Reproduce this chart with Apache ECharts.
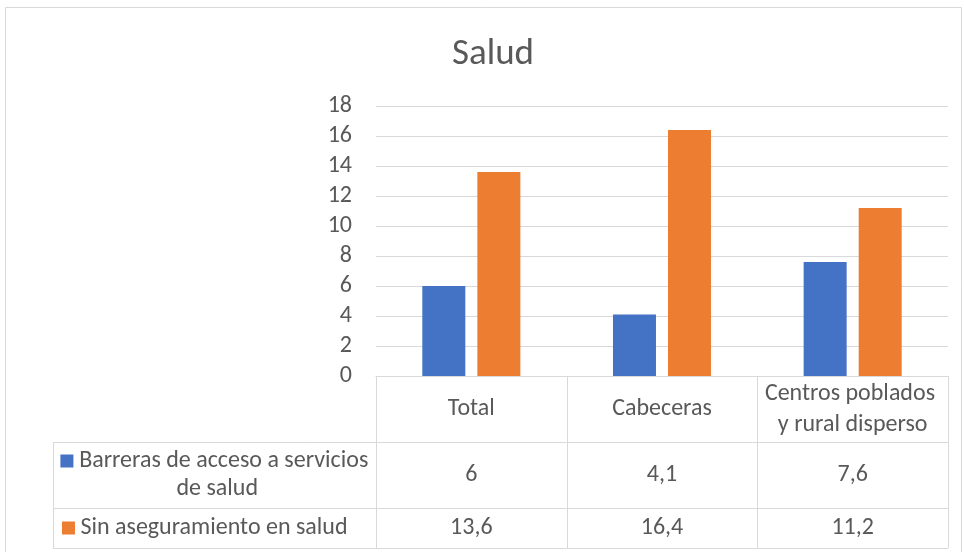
<!DOCTYPE html>
<html>
<head>
<meta charset="utf-8">
<script src="https://cdn.jsdelivr.net/npm/echarts@6/dist/echarts.min.js"></script>
<style>
  html, body { margin: 0; padding: 0; background: #fff; }
  #chart { width: 964px; height: 552px; }
</style>
</head>
<body>
<div id="chart"></div>
<script>
// datos del gráfico
var categories = ['Total', 'Cabeceras', 'Centros poblados y rural disperso']
var seriesNames = ['Barreras de acceso a servicios de salud', 'Sin aseguramiento en salud']
var barreras = [6, 4.1, 7.6]
var sinAseguramiento = [13.6, 16.4, 11.2]
var yTicks = [0, 2, 4, 6, 8, 10, 12, 14, 16, 18]

var colors = ['#4472C4', '#ED7D31']
var txtColor = '#595959'
var lineColor = '#d9d9d9'
var fontFamily = 'Carlito, Lato, sans-serif'

function fmt(v) {
  return String(v).replace('.', ',')
}

var chart = echarts.init(document.getElementById('chart'))

// tabla de datos bajo el eje (filas: cabecera, serie 1, serie 2)
var rowH = [66, 66, 40]
var legendW = 323

function hLine(x1, x2, y) {
  y = Math.round(y) + 0.5
  return { type: 'line', shape: { x1: x1, y1: y, x2: x2, y2: y }, style: { stroke: lineColor, lineWidth: 1 } }
}
function vLine(x, y1, y2) {
  x = Math.round(x) + 0.5
  return { type: 'line', shape: { x1: x, y1: y1, x2: x, y2: y2 }, style: { stroke: lineColor, lineWidth: 1 } }
}
function cellText(text, x, y, w, extra) {
  var st = {
    text: text, x: x, y: y, width: w, overflow: 'break',
    align: 'center', verticalAlign: 'middle',
    fill: txtColor, fontSize: 24, fontFamily: fontFamily, lineHeight: 30
  }
  for (var k in extra) st[k] = extra[k]
  return { type: 'text', style: st }
}

function renderTable(params, api) {
  var i = api.value(0)
  var p = api.coord([i, 0])
  var bw = api.size([1, 0])[0]
  var left = p[0] - bw / 2
  var right = p[0] + bw / 2
  var top = p[1]
  var y1 = top + rowH[0]
  var y2 = y1 + rowH[1]
  var y3 = y2 + rowH[2]
  var lx = i === 0 ? left - legendW : left
  var children = [
    vLine(right, top, y3),
    hLine(lx, right, y1),
    hLine(lx, right, y2),
    hLine(lx, right, y3),
    cellText(categories[i], p[0], top + rowH[0] / 2, bw - 10, { lineHeight: 31 }),
    cellText(fmt(barreras[i]), p[0], y1 + rowH[1] / 2, bw - 10),
    cellText(fmt(sinAseguramiento[i]), p[0], y2 + rowH[2] / 2, bw - 10)
  ]
  if (i === 0) {
    children.push(vLine(left, top, y3))
    children.push(vLine(lx, y1, y3))
    var cx = lx + legendW / 2
    var rich = {
      s0: { width: 13, height: 13, backgroundColor: colors[0] },
      s1: { width: 13, height: 13, backgroundColor: colors[1] }
    }
    children.push(cellText('{s0|} ' + seriesNames[0], cx, y1 + rowH[1] / 2, legendW - 10, { lineHeight: 28, rich: rich }))
    children.push(cellText('{s1|} ' + seriesNames[1], lx + 9, y2 + rowH[2] / 2, legendW - 10, { lineHeight: 28, rich: rich, align: 'left' }))
  }
  return { type: 'group', children: children }
}

chart.setOption({
  animation: false,
  title: {
    text: 'Salud',
    left: 488,
    textAlign: 'center',
    top: 31,
    textStyle: { color: txtColor, fontSize: 37, fontWeight: 'normal', fontFamily: fontFamily }
  },
  graphic: [{
    type: 'rect',
    shape: { x: 5.5, y: 7.5, width: 956, height: 600 },
    style: { fill: 'none', stroke: lineColor, lineWidth: 1 },
    silent: true
  }],
  grid: { left: 376, right: 16, top: 106, bottom: 176 },
  xAxis: {
    type: 'category',
    data: categories,
    axisLine: { lineStyle: { color: lineColor } },
    axisTick: { show: false },
    axisLabel: { show: false }
  },
  yAxis: {
    type: 'value',
    min: yTicks[0],
    max: yTicks[yTicks.length - 1],
    interval: yTicks[1] - yTicks[0],
    axisLine: { show: false },
    axisTick: { show: false },
    axisLabel: { color: txtColor, fontSize: 24, fontFamily: fontFamily, margin: 24 },
    splitLine: { lineStyle: { color: lineColor } }
  },
  series: [{
    name: seriesNames[0],
    type: 'bar',
    data: barreras,
    barWidth: 43,
    barGap: '28%',
    itemStyle: { color: colors[0] }
  }, {
    name: seriesNames[1],
    type: 'bar',
    data: sinAseguramiento,
    barWidth: 43,
    itemStyle: { color: colors[1] }
  }, {
    type: 'custom',
    silent: true,
    clip: false,
    renderItem: renderTable,
    encode: { x: 0, y: 1 },
    data: categories.map(function (c, i) { return [i, 0] })
  }]
})
</script>
</body>
</html>
